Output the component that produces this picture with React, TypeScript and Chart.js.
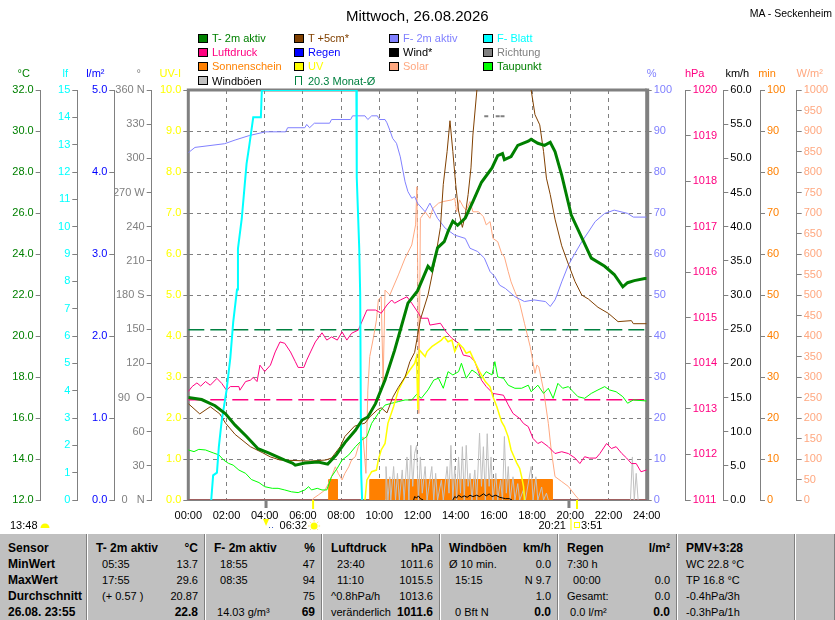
import React, { useEffect, useRef } from "react";
import { Chart, registerables } from "chart.js";

Chart.register(...registerables);

const FONT = '"Liberation Sans", Arial, Helvetica, sans-serif';

// ---------------- data: [hour of day, value] ----------------
const T2M: number[][] = [
  [0, 17.0], [0.7, 16.9], [1.4, 16.6], [1.95, 16.2], [2.45, 15.65], [3.05, 15.1], [3.65, 14.5], [4.2, 14.3],
  [5.05, 13.95], [5.45, 13.8], [5.6, 13.7], [6.1, 13.8], [6.8, 13.85], [7.3, 13.75], [7.75, 14.2], [8.2, 14.8],
  [8.75, 15.4], [9.1, 15.9], [9.4, 16.05], [9.8, 16.7], [10.3, 17.85], [10.8, 19.3], [11.15, 20.45], [11.5, 21.6],
  [12.0, 22.2], [12.55, 23.4], [12.75, 23.2], [13.05, 24.3], [13.4, 24.6], [13.6, 25.1], [13.85, 25.6], [14.1, 25.4],
  [14.5, 25.75], [14.9, 26.55], [15.35, 27.5], [15.9, 28.2], [16.2, 28.8], [16.45, 28.9], [16.55, 28.6], [16.9, 28.75],
  [17.25, 29.3], [17.8, 29.5], [17.95, 29.6], [18.3, 29.4], [18.65, 29.3], [18.95, 29.45], [19.2, 29.0], [19.55, 27.85],
  [20.05, 25.9], [20.6, 24.8], [21.1, 23.8], [21.8, 23.4], [22.3, 23.0], [22.75, 22.4], [23.0, 22.6], [23.35, 22.7],
  [23.9, 22.8], [24, 22.8],
];

const T5CM: number[][] = [
  [0, 16.7], [0.6, 16.2], [1.15, 16.55], [1.65, 16.2], [1.95, 15.75], [2.45, 15.2], [3.25, 14.6], [3.9, 14.3],
  [4.3, 14.1], [4.8, 13.95], [6.4, 13.9], [7.2, 13.95], [7.5, 14.05], [7.95, 14.6], [8.2, 15.1], [8.7, 15.6],
  [9.25, 15.75], [9.5, 16.05], [9.9, 16.4], [10.1, 16.5], [10.4, 16.25], [10.7, 17.0], [11.0, 17.5], [11.35, 18.0],
  [11.6, 18.75], [11.85, 19.2], [12.15, 20.8], [12.55, 22.0], [12.9, 23.6], [13.2, 25.3], [13.35, 27.4], [13.55, 29.0],
  [13.7, 30.5], [13.85, 29.0], [14.0, 27.4], [14.15, 26.1], [14.35, 25.3], [14.5, 25.9], [14.65, 26.9], [14.8, 28.2],
  [14.9, 29.8], [15.1, 31.9], [15.3, 34.0], [17.7, 34.0], [17.95, 32.0], [18.15, 30.8], [18.4, 30.3], [18.6, 29.0],
  [18.75, 27.7], [18.95, 26.9], [19.2, 25.7], [19.55, 24.4], [19.9, 23.5], [20.25, 22.65], [20.6, 22.0], [20.95, 21.8],
  [21.45, 21.4], [22.0, 21.1], [22.5, 20.7], [23.2, 20.75], [23.3, 20.6], [24, 20.6],
];

const F2M: number[][] = [
  [0, 84.7], [0.35, 86], [1.9, 86.9], [2.45, 87.8], [3.2, 88.9], [4.05, 89.8], [5.1, 89.8], [5.2, 90.8], [6.1, 90.8],
  [6.2, 91.6], [6.35, 90.8], [6.6, 91.9], [7.4, 91.9], [7.5, 92.8], [8.5, 92.8], [8.6, 93.7], [9.25, 93.7], [9.4, 92.8],
  [9.6, 93.7], [9.9, 93.7], [10.0, 92.8], [10.3, 92.8], [10.4, 92], [10.55, 90.2], [10.7, 88.2], [10.9, 87], [11.1, 83.7],
  [11.25, 80], [11.35, 77.6], [11.5, 75.2], [11.7, 73.6], [11.85, 74], [12.0, 72.4], [12.4, 70.3], [12.65, 72.4],
  [13.05, 68.7], [13.45, 66.3], [13.95, 64.6], [14.5, 63.8], [14.75, 61.4], [15.15, 60.6], [15.5, 59], [15.8, 55.7],
  [16.05, 54.5], [16.3, 52.4], [16.6, 51.6], [17.1, 49.6], [17.6, 48.4], [18.1, 48.8], [18.7, 48.4], [18.95, 47.2],
  [19.2, 48.8], [19.3, 50], [19.55, 53.2], [19.9, 57.3], [20.25, 60.2], [20.6, 63], [20.95, 65.4], [21.3, 67.9],
  [21.8, 69.9], [22.3, 70.7], [23.0, 69.9], [23.3, 69], [24, 69],
];

const FBLATT: number[][] = [
  [1.2, 0], [1.3, 0.9], [1.5, 1.0], [1.6, 1.95], [1.75, 2.9], [2.0, 4.0], [2.2, 5.2], [2.35, 6.5], [2.55, 7.7],
  [2.6, 9.2], [2.8, 10.3], [2.95, 11.5], [3.05, 12.3], [3.2, 13.0], [3.4, 14.0], [3.8, 14.0], [3.85, 15],
  [8.8, 15], [8.82, 11.8], [8.95, 9.2], [9.0, 7.5], [9.05, 1.0], [9.1, 0],
];

const LUFTDRUCK: number[][] = [
  [0, 1013.38], [0.2, 1013.49], [0.45, 1013.57], [0.65, 1013.5], [0.9, 1013.6], [1.15, 1013.52], [1.5, 1013.67],
  [1.75, 1013.56], [2.0, 1013.41], [2.2, 1013.49], [2.65, 1013.49], [2.7, 1013.41], [3.0, 1013.6], [3.25, 1013.63],
  [3.4, 1013.69], [3.6, 1013.6], [3.75, 1013.96], [4.0, 1013.82], [4.3, 1013.96], [4.55, 1014.25], [4.8, 1014.47],
  [5.05, 1014.44], [5.35, 1014.25], [5.6, 1014.04], [5.75, 1013.91], [6.05, 1013.91], [6.2, 1014.07], [6.4, 1014.25],
  [6.65, 1014.47], [7.0, 1014.67], [7.25, 1014.51], [7.5, 1014.58], [7.8, 1014.51], [8.05, 1014.69], [8.3, 1014.51],
  [8.55, 1014.66], [8.9, 1014.73], [9.35, 1015.17], [9.8, 1015.17], [10.1, 1015.1], [10.4, 1015.28], [10.65, 1015.39],
  [10.8, 1015.32], [11.1, 1015.39], [11.45, 1015.46], [11.7, 1015.32], [12.05, 1015.1], [12.2, 1014.99], [12.55, 1014.99],
  [12.65, 1014.84], [13.2, 1014.88], [13.5, 1014.69], [13.8, 1014.55], [14.15, 1014.44], [14.4, 1014.18], [14.75, 1014.15],
  [15.0, 1014.04], [15.35, 1013.63], [15.6, 1013.49], [15.95, 1013.34], [16.5, 1013.3], [16.75, 1013.09], [17.0, 1012.9],
  [17.35, 1012.79], [17.55, 1012.68], [17.8, 1012.61], [18.05, 1012.35], [18.3, 1012.24], [18.5, 1012.28], [18.85, 1012.17],
  [19.2, 1012.02], [19.55, 1012.06], [19.9, 1012.02], [20.25, 1011.92], [20.5, 1011.8], [20.75, 1011.95], [21.0, 1011.92],
  [21.35, 1011.92], [21.55, 1012.02], [21.9, 1012.24], [22.15, 1012.13], [22.4, 1012.17], [22.7, 1012.02], [22.95, 1011.92],
  [23.2, 1011.8], [23.45, 1011.8], [23.7, 1011.62], [24.0, 1011.66],
];

const TAUPUNKT: number[][] = [
  [0, 14.44], [0.3, 14.36], [0.55, 14.47], [0.9, 14.44], [1.3, 14.3], [1.6, 14.2], [1.85, 13.95], [2.1, 13.79],
  [2.35, 13.7], [2.65, 13.46], [3.0, 13.3], [3.3, 13.0], [3.7, 12.85], [4.0, 12.65], [4.4, 12.57], [4.7, 12.57],
  [5.05, 12.49], [5.4, 12.4], [5.75, 12.36], [6.1, 12.49], [6.3, 12.65], [6.45, 12.49], [6.75, 12.57], [7.0, 12.49],
  [7.25, 12.49], [7.5, 13.14], [7.8, 13.55], [8.05, 13.95], [8.4, 14.2], [8.75, 14.6], [9.1, 14.93], [9.35, 15.1],
  [9.6, 15.74], [9.95, 16.23], [10.3, 16.63], [10.65, 16.72], [11.0, 16.8], [11.35, 16.88], [11.7, 16.88], [11.95, 17.15],
  [12.2, 16.96], [12.55, 17.37], [12.85, 17.85], [13.1, 17.94], [13.35, 17.45], [13.6, 18.26], [13.85, 18.1], [14.15, 18.26],
  [14.3, 18.67], [14.55, 17.94], [14.85, 18.34], [15.1, 18.18], [15.35, 17.94], [15.6, 18.26], [15.9, 18.1], [16.05, 18.75],
  [16.2, 18.0], [16.5, 17.94], [16.75, 17.6], [17.1, 17.45], [17.45, 17.45], [17.8, 17.6], [17.95, 17.28], [18.3, 17.6],
  [18.6, 17.2], [18.85, 17.45], [19.1, 16.96], [19.35, 17.69], [19.6, 17.45], [19.9, 17.53], [20.15, 17.28], [20.4, 17.04],
  [20.75, 16.96], [21.1, 17.2], [21.45, 17.37], [21.8, 17.53], [22.05, 17.37], [22.4, 17.28], [22.75, 17.04], [23.0, 16.72],
  [23.3, 16.88], [24, 16.83],
];

const SOLAR: number[][] = [
  [6.5, 0], [6.55, 4], [6.8, 12], [7.15, 24], [7.35, 41], [7.5, 57], [7.7, 81], [7.85, 65], [8.05, 49], [8.2, 65],
  [8.4, 81], [8.55, 98], [8.75, 106], [8.9, 130], [9.15, 154], [9.3, 65], [9.4, 268], [9.5, 350], [9.7, 398],
  [9.85, 439], [9.95, 488], [10.1, 496], [10.2, 285], [10.3, 512], [10.55, 500], [11.0, 549], [11.35, 590], [11.7, 622],
  [11.9, 671], [11.97, 764], [12.02, 520], [12.07, 211], [12.15, 687], [12.4, 703], [12.65, 687], [12.8, 711],
  [13.1, 724], [13.35, 728], [13.8, 732], [13.95, 736], [14.05, 703], [14.2, 732], [14.4, 715], [14.55, 707],
  [14.75, 728], [14.9, 703], [15.2, 703], [15.45, 691], [15.6, 671], [15.8, 679], [15.95, 638], [16.2, 630],
  [16.4, 602], [16.55, 593], [16.75, 557], [16.9, 532], [17.1, 508], [17.35, 480], [17.6, 431], [17.9, 374],
  [18.15, 309], [18.25, 329], [18.35, 325], [18.6, 268], [18.85, 187], [19.0, 122], [19.2, 57], [19.55, 45],
  [19.9, 33], [20.25, 12], [20.4, 4], [20.45, 0],
];

const UV: number[][] = [
  [9.25, 0], [9.35, 0.49], [9.6, 0.69], [9.85, 0.73], [9.95, 0.98], [10.1, 1.22], [10.3, 1.38], [10.45, 1.87],
  [10.75, 2.28], [11.0, 2.68], [11.35, 3.0], [11.6, 3.17], [11.85, 3.33], [11.95, 3.5], [12.02, 2.2], [12.1, 3.66],
  [12.4, 3.5], [12.5, 3.62], [12.75, 3.74], [13.0, 3.82], [13.25, 3.9], [13.4, 3.98], [13.6, 3.86], [13.8, 3.9],
  [13.95, 3.62], [14.15, 3.82], [14.4, 3.7], [14.55, 3.58], [14.75, 3.62], [15.0, 3.37], [15.25, 3.13], [15.55, 2.89],
  [15.8, 2.76], [15.95, 2.52], [16.15, 2.28], [16.4, 1.91], [16.55, 1.79], [16.75, 1.54], [16.9, 1.22], [17.2, 0.9],
  [17.35, 0.77], [17.45, 0.57], [17.55, 0.33], [17.6, 0],
];

const WINDBOEEN: (number | null)[][] = [
  [10.3, 0], [10.35, 4.9], [10.45, 0], [10.55, 3.4], [10.6, 0], [10.75, 4.9], [10.85, 0], [10.95, 3.9], [11.05, 0],
  [11.2, 4.4], [11.3, 0], [11.45, 6.3], [11.55, 0], [11.65, 8.0], [11.75, 2.0], [11.85, 6.8], [11.95, 8.0], [12.05, 0],
  [12.15, 6.3], [12.25, 1.0], [12.4, 4.9], [12.5, 0], [12.6, 2.0], [12.75, 4.9], [12.85, 0], [12.95, 3.9], [13.05, 0],
  [13.25, 2.9], [13.35, 0], [13.55, 4.9], [13.65, 1.0], [13.75, 8.0], [13.85, 0], [13.95, 4.9], [14.05, 0], [14.15, 6.3],
  [14.25, 1.0], [14.35, 7.8], [14.45, 0], [14.55, 8.0], [14.65, 2.0], [14.75, 3.9], [14.85, 0], [15.0, 4.4], [15.1, 0],
  [15.25, 9.8], [15.35, 2.0], [15.45, 7.8], [15.55, 0], [15.65, 9.7], [15.75, 2.0], [15.85, 6.3], [15.95, 0], [16.1, 3.9],
  [16.2, 0], [16.35, 2.9], [16.45, 0], [16.55, 9.3], [16.65, 1.0], [16.75, 4.9], [16.85, 0], [17.0, 3.4], [17.1, 0],
  [17.25, 2.4], [17.35, 0], [17.55, 1.5], [17.65, 0], [17.95, 4.9], [18.05, 0], [18.2, 3.4], [18.3, 0], [18.5, 1.9],
  [18.6, 0], [18.75, 1.0], [18.85, 0], [21, null], [23.15, 0], [23.25, 6.3], [23.35, 0], [23.45, 3.9], [23.55, 0],
];

const WIND: (number | null)[][] = [
  [11.8, 0], [11.85, 0.5], [11.95, 0.3], [12.05, 0.6], [12.15, 0.2], [12.3, 0], [13, null], [13.85, 0], [13.95, 0.5],
  [14.05, 0.3], [14.15, 0.7], [14.3, 0.4], [14.45, 0.6], [14.6, 0.4], [14.75, 0.7], [14.9, 0.5], [15.1, 0.7],
  [15.25, 0.5], [15.45, 0.9], [15.6, 0.6], [15.75, 0.9], [15.9, 0.5], [16.1, 0.7], [16.3, 0.4], [16.45, 0.3],
  [16.6, 0.2], [16.8, 0.2], [16.95, 0],
];

const RICHTUNG: number[][] = [[15.6, 337], [16.2, 337], [16.45, 337]];

const SONNENSCHEIN: number[][] = [
  [0, 0], [7.35, 0], [7.35, 5], [7.8, 5], [7.8, 0], [9.5, 0], [9.5, 5], [19.05, 5], [19.05, 0], [24, 0],
];

const REGEN: number[][] = [[0, 0], [24, 0]];

const MONTH_AVG_T = 20.3;
const MONTH_AVG_P = 1013.2;

const SUN_EVENTS = [6.533, 20.35]; // 06:32 / 20:21
const MOON_EVENTS = [4.07, 19.93];

const DIR_TICK_LABELS = ["0   N", "30", "60", "90  O", "120", "150", "180 S", "210", "240", "270 W", "300", "330", "360 N"];

// ---------------- legend & table text ----------------
const LEGEND = [
  { label: "T- 2m aktiv", color: "#008000", text: "#008000" },
  { label: "T +5cm*", color: "#804000", text: "#804000" },
  { label: "F- 2m aktiv", color: "#8080FF", text: "#8080FF" },
  { label: "F- Blatt", color: "#00FFFF", text: "#00FFFF" },
  { label: "Luftdruck", color: "#FF0080", text: "#FF0080" },
  { label: "Regen", color: "#0000FF", text: "#0000FF" },
  { label: "Wind*", color: "#000000", text: "#000000" },
  { label: "Richtung", color: "#808080", text: "#808080" },
  { label: "Sonnenschein", color: "#FF8000", text: "#FF8000" },
  { label: "UV", color: "#FFFF00", text: "#FFFF00" },
  { label: "Solar", color: "#FFA880", text: "#FFA880" },
  { label: "Taupunkt", color: "#00FF00", text: "#008000" },
  { label: "Windböen", color: "#C0C0C0", text: "#000000" },
  { label: `${MONTH_AVG_T} Monat-Ø`, color: "#008040", text: "#008040", open: true },
];
const LEGEND_COL_X = [198, 294, 389, 483];
const LEGEND_ROW_Y = [38, 52, 66.3, 80.5];

const TABLE_COL_WIDTHS = [87, 118, 117, 118, 118, 119, 118, 40];
const TABLE_HEAD = [["Sensor", ""], ["T- 2m aktiv", "°C"], ["F- 2m aktiv", "%"], ["Luftdruck", "hPa"], ["Windböen", "km/h"], ["Regen", "l/m²"], ["PMV+3:28", ""], ["", ""]];
const TABLE_ROWS = [
  [["MinWert", ""], ["  05:35", "13.7"], ["  18:55", "47"], ["  23:40", "1011.6"], ["Ø 10 min.", "0.0"], ["7:30 h", ""], ["WC 22.8 °C", ""], ["", ""]],
  [["MaxWert", ""], ["  17:55", "29.6"], ["  08:35", "94"], ["  11:10", "1015.5"], ["  15:15", "N 9.7"], ["  00:00", "0.0"], ["TP 16.8 °C", ""], ["", ""]],
  [["Durchschnitt", ""], ["  (+ 0.57 )", "20.87"], ["", "75"], ["^0.8hPa/h", "1013.6"], ["", "1.0"], ["Gesamt:", "0.0"], ["-0.4hPa/3h", ""], ["", ""]],
  [["26.08. 23:55", ""], ["", "22.8"], [" 14.03 g/m³", "69"], ["veränderlich", "1011.6"], ["  0 Bft N", "0.0"], [" 0.0 l/m²", "0.0"], ["-0.3hPa/1h", ""], ["", ""]],
];

// ---------------- axis styling ----------------
const AXIS_UNITS = [
  { id: "yT", text: "°C", color: "#008000", dx: -17 },
  { id: "yLf", text: "lf", color: "#00FFFF", dx: -12 },
  { id: "yRain", text: "l/m²", color: "#0000FF", dx: -19 },
  { id: "yDir", text: "°", color: "#808080", dx: -13 },
  { id: "yUV", text: "UV-I", color: "#FFFF00", dx: -18 },
  { id: "yPct", text: "%", color: "#8080FF", dx: 5 },
  { id: "yHpa", text: "hPa", color: "#FF0080", dx: 9 },
  { id: "yKmh", text: "km/h", color: "#000000", dx: 14 },
  { id: "yMin", text: "min", color: "#FF8000", dx: 7 },
  { id: "yW", text: "W/m²", color: "#FFA880", dx: 13 },
];

const pts = (a: (number | null)[][]) => a.map(([x, y]) => ({ x: x as number, y }));

function yAxis(position: string, weight: number, min: number, max: number, step: number, color: string,
  fmt: (v: number) => string, width: number, grid = false) {
  return {
    type: "linear",
    position,
    weight,
    min,
    max,
    ticks: {
      stepSize: step,
      color,
      font: { family: FONT, size: 11 },
      padding: 2,
      autoSkip: false,
      callback: (v: any) => fmt(Number(v)),
    },
    grid: {
      drawOnChartArea: grid,
      color: "#808080",
      tickColor: "#808080",
      tickLength: 5,
      drawTicks: true,
      lineWidth: 1,
    },
    border: { display: true, color: "#808080", width: 1, dash: grid ? [4, 4] : [] },
    afterFit: (s: any) => {
      s.width = width;
    },
  };
}

const framePlugin = {
  id: "frame",
  beforeDatasetsDraw(chart: any) {
    const { ctx, chartArea: a } = chart;
    ctx.save();
    ctx.strokeStyle = "#808080";
    ctx.lineWidth = 2;
    ctx.beginPath();
    ctx.moveTo(a.left, a.bottom);
    ctx.lineTo(a.right, a.bottom);
    ctx.stroke();
    ctx.lineWidth = 3;
    ctx.beginPath();
    ctx.moveTo(a.left, a.bottom);
    ctx.lineTo(a.left, a.top);
    ctx.lineTo(a.right, a.top);
    ctx.stroke();
    ctx.lineWidth = 4;
    ctx.beginPath();
    ctx.moveTo(a.right + 0.5, a.top - 1.5);
    ctx.lineTo(a.right + 0.5, a.bottom + 1);
    ctx.stroke();
    ctx.restore();
  },
};

const markerPlugin = {
  id: "markers",
  afterDraw(chart: any) {
    const { ctx, chartArea: a, scales } = chart;
    const xs = scales.x;
    ctx.save();
    // unit labels above axes
    ctx.font = `11px ${FONT}`;
    ctx.textAlign = "center";
    ctx.textBaseline = "middle";
    for (const u of AXIS_UNITS) {
      const s = scales[u.id];
      const base = s.position === "left" ? s.right : s.left;
      ctx.fillStyle = u.color;
      ctx.fillText(u.text, base + u.dx, a.top - 16);
    }
    // moon ticks
    ctx.strokeStyle = "#808080";
    ctx.lineWidth = 3;
    for (const t of MOON_EVENTS) {
      const px = xs.getPixelForValue(t);
      ctx.beginPath();
      ctx.moveTo(px, a.bottom);
      ctx.lineTo(px, a.bottom + 8);
      ctx.stroke();
    }
    // sun ticks
    ctx.strokeStyle = "#FFFF00";
    ctx.lineWidth = 2;
    for (const t of SUN_EVENTS) {
      const px = xs.getPixelForValue(t);
      ctx.beginPath();
      ctx.moveTo(px, a.bottom);
      ctx.lineTo(px, a.bottom + 9);
      ctx.stroke();
    }
    const ty = a.bottom + 26;
    ctx.font = `11px ${FONT}`;
    ctx.textBaseline = "middle";
    ctx.fillStyle = "#000";
    // sunshine duration
    ctx.textAlign = "left";
    ctx.fillText("13:48", 10, ty);
    ctx.fillStyle = "#FFFF00";
    ctx.beginPath();
    ctx.arc(45, ty + 2, 4.5, Math.PI, 0);
    ctx.fill();
    // moonrise arrow
    const mx = xs.getPixelForValue(MOON_EVENTS[0]);
    ctx.beginPath();
    ctx.moveTo(mx - 3, ty - 7);
    ctx.lineTo(mx + 3, ty - 7);
    ctx.lineTo(mx, ty);
    ctx.closePath();
    ctx.fill();
    ctx.fillStyle = "#4060C0";
    ctx.fillRect(mx + 3, ty + 1, 1, 1);
    ctx.fillRect(mx + 6, ty + 1, 1, 1);
    // sunrise
    const sr = xs.getPixelForValue(SUN_EVENTS[0]);
    ctx.fillStyle = "#000";
    ctx.textAlign = "right";
    ctx.fillText("06:32", sr - 6, ty);
    ctx.fillStyle = "#FFFF00";
    ctx.beginPath();
    ctx.arc(sr + 1, ty, 3.5, 0, Math.PI * 2);
    ctx.fill();
    ctx.strokeStyle = "#FFE060";
    ctx.lineWidth = 1;
    for (let k = 0; k < 8; k++) {
      const ang = (k * Math.PI) / 4;
      ctx.beginPath();
      ctx.moveTo(sr + 1 + Math.cos(ang) * 4.5, ty + Math.sin(ang) * 4.5);
      ctx.lineTo(sr + 1 + Math.cos(ang) * 6, ty + Math.sin(ang) * 6);
      ctx.stroke();
    }
    // sunset
    const ss = xs.getPixelForValue(SUN_EVENTS[1]);
    ctx.fillStyle = "#000";
    ctx.textAlign = "right";
    ctx.fillText("20:21", ss - 11, ty);
    ctx.textAlign = "left";
    ctx.fillText("3:51", ss + 4, ty);
    ctx.strokeStyle = "#FFFF00";
    ctx.lineWidth = 1;
    ctx.beginPath();
    ctx.moveTo(ss - 6, ty - 7);
    ctx.lineTo(ss - 6, ty + 6);
    ctx.stroke();
    ctx.strokeRect(ss - 2.5, ty - 3.5, 5, 5);
    ctx.restore();
  },
};

function ChartCanvas() {
  const ref = useRef<HTMLCanvasElement | null>(null);
  useEffect(() => {
    if (!ref.current) return;
    const line = (label: string, data: any[], yAxisID: string, color: string, width = 1, extra: any = {}) => ({
      label,
      data,
      yAxisID,
      xAxisID: "x",
      borderColor: color,
      backgroundColor: color,
      borderWidth: width,
      pointRadius: 0,
      tension: 0,
      fill: false,
      spanGaps: false,
      ...extra,
    });
    const chart = new Chart(ref.current, {
      type: "line",
      data: {
        datasets: [
          line("T- 2m aktiv", pts(T2M), "yT", "#008000", 3),
          line("F- Blatt", pts(FBLATT), "yLf", "#00FFFF", 2),
          line("T +5cm*", pts(T5CM), "yT", "#804000", 1),
          line("F- 2m aktiv", pts(F2M), "yPct", "#8080FF", 1),
          line("UV", pts(UV), "yUV", "#FFFF00", 1.5),
          line("Taupunkt", pts(TAUPUNKT), "yT", "#00FF00", 1),
          line("Luftdruck", pts(LUFTDRUCK), "yHpa", "#FF0080", 1),
          line("Solar", pts(SOLAR), "yW", "#FFA880", 1),
          line("Monat-Ø T", pts([[0, MONTH_AVG_T], [23.9, MONTH_AVG_T]]), "yT", "#008040", 1.5, { borderDash: [16, 6] }),
          line("Monat-Ø P", pts([[0, MONTH_AVG_P], [23.9, MONTH_AVG_P]]), "yHpa", "#FF0080", 1.5, { borderDash: [16, 6] }),
          line("Richtung", pts(RICHTUNG), "yDir", "#808080", 2, {
            showLine: false, pointRadius: 2, pointStyle: "line", pointBorderWidth: 2, pointBorderColor: "#808080",
          }),
          line("Wind*", pts(WIND), "yKmh", "#000000", 1),
          line("Windböen", pts(WINDBOEEN), "yKmh", "#C0C0C0", 1),
          line("Sonnenschein", pts(SONNENSCHEIN), "yMin", "#FF8000", 1, { fill: "origin", backgroundColor: "#FF8000" }),
          line("Regen", pts(REGEN), "yRain", "#0000FF", 1),
        ],
      },
      options: {
        animation: false,
        responsive: false,
        events: [],
        layout: { padding: { top: 90, left: 0, right: 0, bottom: 0 } },
        plugins: { legend: { display: false }, tooltip: { enabled: false }, title: { display: false } },
        scales: {
          x: {
            type: "linear",
            position: "bottom",
            min: 0,
            max: 24,
            ticks: {
              stepSize: 2,
              color: "#000",
              font: { family: FONT, size: 11 },
              padding: 9,
              autoSkip: false,
              maxRotation: 0,
              callback: (v: any) => `${String(v).padStart(2, "0")}:00`,
            },
            grid: { color: "#808080", drawTicks: false, lineWidth: 1, drawOnChartArea: true },
            border: { display: false, dash: [4, 4] },
            afterFit: (s: any) => {
              s.height = 30;
            },
          },
          yT: yAxis("left", 5, 12, 32, 2, "#008000", (v) => v.toFixed(1), 40.7),
          yLf: yAxis("left", 4, 0, 15, 1, "#00FFFF", (v) => String(v), 36.6),
          yRain: yAxis("left", 3, 0, 5, 1, "#0000FF", (v) => v.toFixed(1), 37),
          yDir: yAxis("left", 2, 0, 360, 30, "#808080", (v) => DIR_TICK_LABELS[Math.round(v / 30)] ?? "", 37.4),
          yUV: yAxis("left", 1, 0, 10, 1, "#FFFF00", (v) => v.toFixed(1), 36.6, true),
          yPct: yAxis("right", 1, 0, 100, 10, "#8080FF", (v) => String(v), 39),
          yHpa: yAxis("right", 2, 1011, 1020, 1, "#FF0080", (v) => String(v), 37.6),
          yKmh: yAxis("right", 3, 0, 60, 5, "#000000", (v) => v.toFixed(1), 36.7),
          yMin: yAxis("right", 4, 0, 100, 10, "#FF8000", (v) => String(v), 36.7),
          yW: yAxis("right", 5, 0, 1000, 50, "#FFA880", (v) => String(v), 38.3),
        } as any,
      },
      plugins: [framePlugin, markerPlugin],
    } as any);
    return () => chart.destroy();
  }, []);
  return (
    <canvas
      ref={ref}
      width={835}
      height={530}
      style={{ position: "absolute", left: 0, top: 0, width: 835, height: 530 }}
    />
  );
}

function Legend() {
  return (
    <>
      {LEGEND.map((it, i) => {
        const x = LEGEND_COL_X[i % 4];
        const y = LEGEND_ROW_Y[Math.floor(i / 4)];
        return (
          <div key={i}>
            {it.open ? (
              <div
                style={{
                  position: "absolute", left: x + 1, top: y - 4.5, width: 7, height: 9,
                  borderTop: `1px solid ${it.color}`, borderLeft: `1px solid ${it.color}`, borderRight: `1px solid ${it.color}`,
                  boxSizing: "border-box",
                }}
              />
            ) : (
              <div
                style={{
                  position: "absolute", left: x, top: y - 4.5, width: 10, height: 9,
                  background: it.color, border: "1px solid #000", boxSizing: "border-box",
                }}
              />
            )}
            <div
              style={{
                position: "absolute", left: x + 14, top: y - 7, height: 14, lineHeight: "14px",
                fontSize: 11, fontFamily: FONT, color: it.text, whiteSpace: "pre",
              }}
            >
              {it.label}
            </div>
          </div>
        );
      })}
    </>
  );
}

function Table() {
  const rows = [TABLE_HEAD, ...TABLE_ROWS];
  return (
    <div
      style={{
        position: "absolute", left: 0, top: 534, width: 835, height: 86, background: "#C0C0C0",
        display: "flex", fontFamily: FONT,
      }}
    >
      {TABLE_COL_WIDTHS.map((w, c) => (
        <div
          key={c}
          style={{
            width: w, height: 86, boxSizing: "border-box", paddingTop: 6, paddingLeft: 8, paddingRight: 6,
            borderLeft: c === 0 ? "none" : "1px solid #FFFFFF", borderRight: "1px solid #808080",
          }}
        >
          {rows.map((r, ri) => {
            const [l, rt] = r[c];
            const boldLeft = ri === 0 || c === 0;
            const boldRight = ri === 0 || ri === rows.length - 1;
            return (
              <div key={ri} style={{ display: "flex", justifyContent: "space-between", height: 16, lineHeight: "16px" }}>
                <span style={{ whiteSpace: "pre", fontSize: boldLeft ? 12 : 11, fontWeight: boldLeft ? "bold" : "normal" }}>{l}</span>
                <span style={{ whiteSpace: "pre", fontSize: boldRight ? 12 : 11, fontWeight: boldRight ? "bold" : "normal" }}>{rt}</span>
              </div>
            );
          })}
        </div>
      ))}
    </div>
  );
}

export default function App() {
  return (
    <div style={{ position: "absolute", left: 0, top: 0, width: 835, height: 620, background: "#fff", overflow: "hidden" }}>
      <ChartCanvas />
      <div
        style={{
          position: "absolute", left: 346, top: 6.5, fontSize: 15, lineHeight: "18px", fontFamily: FONT, color: "#000",
          whiteSpace: "nowrap",
        }}
      >
        Mittwoch, 26.08.2026
      </div>
      <div
        style={{
          position: "absolute", right: 3, top: 7, fontSize: 10.5, lineHeight: "12px", fontFamily: FONT, color: "#000",
          whiteSpace: "nowrap",
        }}
      >
        MA - Seckenheim
      </div>
      <Legend />
      <Table />
    </div>
  );
}
